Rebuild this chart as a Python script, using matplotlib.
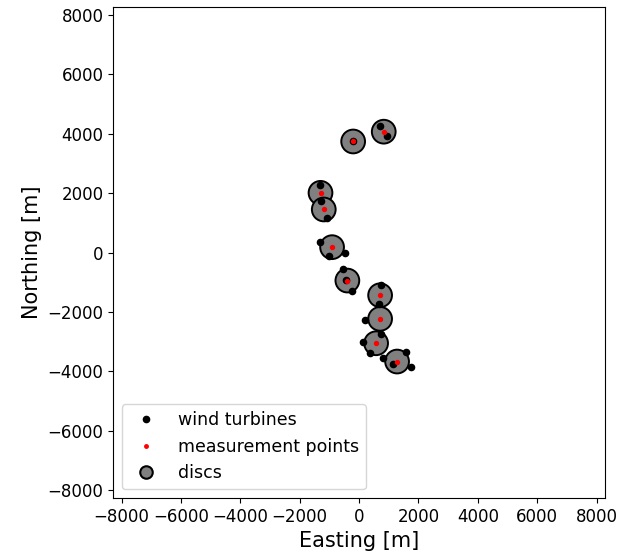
import matplotlib
matplotlib.use("Agg")
import matplotlib.pyplot as plt
from matplotlib.patches import Circle
from matplotlib.lines import Line2D

turbine_x = [710, 940, -200, -1310, -1280, -1080, -1310, -1010, -470, -540, -440, -240,
             740, 670, 200, 740, 130, 370, 810, 1580, 1750, 1150]
turbine_y = [4250, 3910, 3740, 2290, 1750, 1150, 370, -130, 0, -540, -940, -1310,
             -1110, -1750, -2290, -2730, -3000, -3400, -3540, -3340, -3840, -3740]

disc_x = [-200, 830, -1300, -1190, -910, -395, 708, 708, 573, 1280]
disc_y = [3740, 4070, 2010, 1450, 180, -945, -1440, -2235, -3057, -3673]
disc_radius = 400

fig = plt.figure(figsize=(6.17, 5.56), dpi=100)
ax = fig.add_axes([0.183, 0.1043, 0.798, 0.8831])

for x, y in zip(disc_x, disc_y):
    ax.add_patch(Circle((x, y), disc_radius, facecolor="grey", edgecolor="black", linewidth=1.4, zorder=1))

ax.scatter(turbine_x, turbine_y, s=20, color="black", zorder=2)
ax.scatter(disc_x, disc_y, s=8, color="red", zorder=3)

ax.set_xlim(-8280, 8280)
ax.set_ylim(-8270, 8270)
ax.set_aspect("equal")
ax.set_xticks(range(-8000, 8001, 2000))
ax.set_yticks(range(-8000, 8001, 2000))
ax.tick_params(labelsize=12)
ax.set_xlabel("Easting [m]", fontsize=15)
ax.set_ylabel("Northing [m]", fontsize=15)

handles = [
    Line2D([], [], linestyle="none", marker="o", markersize=4.5, color="black"),
    Line2D([], [], linestyle="none", marker="o", markersize=2.5, color="red"),
    Line2D([], [], linestyle="none", marker="o", markersize=9, markerfacecolor="grey",
           markeredgecolor="black", markeredgewidth=1.5),
]
ax.legend(handles, ["wind turbines", "measurement points", "discs"], loc="lower left", fontsize=12.5)

fig.savefig("out.png", dpi=100)
